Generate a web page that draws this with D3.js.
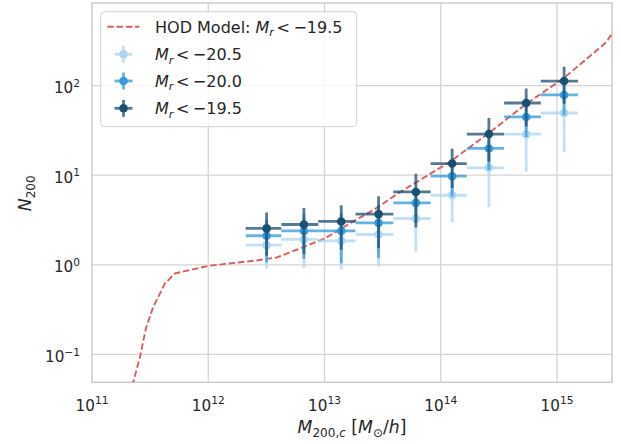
<!DOCTYPE html>
<html>
<head>
<meta charset="utf-8">
<script src="https://cdn.jsdelivr.net/npm/d3@7"></script>
<style>
  html, body { margin: 0; padding: 0; background: #fff; }
  svg { display: block; font-family: "DejaVu Sans", sans-serif; }
</style>
</head>
<body>
<svg id="chart" width="621" height="444"></svg>
<script>
// Halo occupation: number of member galaxies N200 against halo mass M200,c

// Mass bins (log10 of M200,c in Msun/h): edges and mean mass in each bin
const binEdgesLog = [12.322, 12.629, 12.946, 13.267, 13.592, 13.913, 14.224, 14.545, 14.861, 15.181];
const binCentersLog = [12.502, 12.823, 13.144, 13.465, 13.786, 14.098, 14.414, 14.735, 15.061];

// Mean N200 and its uncertainty for each magnitude-limited sample
const seriesNames = ["M_r < −20.5", "M_r < −20.0", "M_r < −19.5"];
const nBright = [1.66, 1.92, 1.85, 2.18, 3.29, 5.98, 12.1, 28.7, 49.5];
const errBright = [0.75, 1.0, 0.96, 1.23, 1.89, 3.0, 7.7, 17.8, 31.5];
const nMid = [2.11, 2.39, 2.39, 2.94, 4.91, 9.75, 19.9, 44.7, 78.7];
const errMid = [1.05, 1.23, 1.35, 1.75, 2.0, 4.0, 8.5, 18.0, 32.0];
const nFaint = [2.55, 2.82, 3.05, 3.68, 6.51, 13.5, 28.8, 64.0, 112.5];
const errFaint = [1.29, 1.50, 1.58, 2.15, 3.9, 6.3, 14.7, 29.0, 49.7];
const seriesColors = ["#aed6f1", "#3498db", "#1b4f72"];

// HOD model curve for M_r < -19.5 (log10 M, log10 N)
const hodLogM = [11.327, 11.355, 11.413, 11.464, 11.527, 11.542, 11.585, 11.628, 11.714, 12.003,
                 12.416, 12.588, 12.788, 13.003, 13.218, 13.419, 13.648, 14.078, 14.408, 14.738,
                 15.053, 15.426, 15.473];
const hodLogN = [-1.45, -1.311, -1.026, -0.709, -0.468, -0.430, -0.318, -0.207, -0.096, -0.011,
                 0.049, 0.082, 0.183, 0.294, 0.462, 0.610, 0.810, 1.148, 1.465, 1.799,
                 2.078, 2.486, 2.585];

// Axis ticks
const xTickExps = [11, 12, 13, 14, 15];
const yTickExps = [-1, 0, 1, 2];

const svg = d3.select("#chart");
const plot = { left: 92, right: 612, top: 3, bottom: 382.3 };

const x = d3.scaleLog().domain([1e11, Math.pow(10, 15.473)]).range([plot.left, plot.right]);
const y = d3.scaleLog().domain([Math.pow(10, -1.311), Math.pow(10, 2.922)]).range([plot.bottom, plot.top]);

const textColor = "#262626";
const gridColor = "#d5d5d5";

svg.append("defs").append("clipPath").attr("id", "plotclip")
  .append("rect")
  .attr("x", plot.left).attr("y", plot.top)
  .attr("width", plot.right - plot.left).attr("height", plot.bottom - plot.top);

// Grid
const grid = svg.append("g");
grid.selectAll("line.gx").data(xTickExps.slice(1)).join("line")
  .attr("x1", d => x(Math.pow(10, d))).attr("x2", d => x(Math.pow(10, d)))
  .attr("y1", plot.top).attr("y2", plot.bottom)
  .attr("stroke", gridColor).attr("stroke-width", 1.3);
grid.selectAll("line.gy").data(yTickExps).join("line")
  .attr("y1", d => y(Math.pow(10, d))).attr("y2", d => y(Math.pow(10, d)))
  .attr("x1", plot.left).attr("x2", plot.right)
  .attr("stroke", gridColor).attr("stroke-width", 1.3);

// Frame
svg.append("rect")
  .attr("x", plot.left).attr("y", plot.top)
  .attr("width", plot.right - plot.left).attr("height", plot.bottom - plot.top)
  .attr("fill", "none").attr("stroke", "#cccccc").attr("stroke-width", 1.5);

// Small mathtext-like helper: parts are {t, i (italic), s ('sub'|'sup'), dx}
function mathText(textSel, parts, size) {
  let shift = 0;
  parts.forEach(p => {
    let target = 0, fs = size;
    if (p.s === "sub") { target = 0.22 * size; fs = 0.7 * size; }
    if (p.s === "sup") { target = -0.42 * size; fs = 0.7 * size; }
    const ts = textSel.append("tspan")
      .text(p.t)
      .attr("font-size", fs)
      .attr("dy", target - shift);
    if (p.dx) ts.attr("dx", p.dx);
    if (p.i) ts.attr("font-style", "italic");
    shift = target;
  });
}

const tickSize = 15.2;
// X tick labels
xTickExps.forEach(e => {
  const t = svg.append("text")
    .attr("x", x(Math.pow(10, e)))
    .attr("y", 410.5)
    .attr("text-anchor", "middle")
    .attr("fill", textColor);
  mathText(t, [{ t: "10" }, { t: String(e), s: "sup" }], tickSize);
});
// Y tick labels
yTickExps.forEach(e => {
  const t = svg.append("text")
    .attr("x", 80)
    .attr("y", y(Math.pow(10, e)) + 7.5)
    .attr("text-anchor", "end")
    .attr("fill", textColor);
  mathText(t, [{ t: "10" }, { t: (e < 0 ? "−" : "") + Math.abs(e), s: "sup" }], tickSize);
});

// Axis labels
const labelSize = 17.2;
const xl = svg.append("text")
  .attr("x", (plot.left + plot.right) / 2).attr("y", 433)
  .attr("text-anchor", "middle").attr("fill", textColor);
mathText(xl, [
  { t: "M", i: true }, { t: "200,", s: "sub" }, { t: "c", s: "sub", i: true },
  { t: " [" }, { t: "M", i: true }, { t: "⊙", s: "sub" }, { t: "/" }, { t: "h", i: true }, { t: "]" }
], labelSize);

const yl = svg.append("text")
  .attr("transform", "translate(31,193.3) rotate(-90)")
  .attr("text-anchor", "middle").attr("fill", textColor);
mathText(yl, [{ t: "N", i: true }, { t: "200", s: "sub" }], labelSize);

const plotArea = svg.append("g").attr("clip-path", "url(#plotclip)");

// HOD model line
const hodLine = d3.line()
  .x((d, i) => x(Math.pow(10, hodLogM[i])))
  .y((d, i) => y(Math.pow(10, hodLogN[i])));
plotArea.append("path")
  .attr("d", hodLine(hodLogM))
  .attr("fill", "none")
  .attr("stroke", "#d65f5f")
  .attr("stroke-width", 1.9)
  .attr("stroke-dasharray", "6.5,2.8");

// Error bars and points
const series = [
  { n: nBright, err: errBright, color: seriesColors[0] },
  { n: nMid, err: errMid, color: seriesColors[1] },
  { n: nFaint, err: errFaint, color: seriesColors[2] }
];
const yMinVal = y.domain()[0];
series.forEach(s => {
  const g = plotArea.append("g");
  const rows = s.n.map((v, i) => ({
    xc: Math.pow(10, binCentersLog[i]),
    x0: Math.pow(10, binEdgesLog[i]),
    x1: Math.pow(10, binEdgesLog[i + 1]),
    v: v,
    lo: Math.max(v - s.err[i], yMinVal * 0.5),
    hi: v + s.err[i]
  }));
  g.selectAll("line.h").data(rows).join("line")
    .attr("x1", d => x(d.x0)).attr("x2", d => x(d.x1))
    .attr("y1", d => y(d.v)).attr("y2", d => y(d.v))
    .attr("stroke", s.color).attr("stroke-width", 2.8).attr("stroke-opacity", 0.75);
  g.selectAll("line.v").data(rows).join("line")
    .attr("x1", d => x(d.xc)).attr("x2", d => x(d.xc))
    .attr("y1", d => y(d.lo)).attr("y2", d => y(d.hi))
    .attr("stroke", s.color).attr("stroke-width", 2.8).attr("stroke-opacity", 0.75);
  g.selectAll("circle").data(rows).join("circle")
    .attr("cx", d => x(d.xc)).attr("cy", d => y(d.v))
    .attr("r", 4.3).attr("fill", s.color);
});

// Legend
const legend = svg.append("g");
legend.append("rect")
  .attr("x", 100.7).attr("y", 11.7).attr("width", 256).attr("height", 115)
  .attr("rx", 4).attr("fill", "#fff").attr("fill-opacity", 0.8)
  .attr("stroke", "#d0d0d0").attr("stroke-width", 1);

const legendSize = 16;
const rowY = [26.7, 54.3, 81, 108.3];
const handleX = 123.5;
legend.append("line")
  .attr("x1", 107.3).attr("x2", 139.3).attr("y1", rowY[0]).attr("y2", rowY[0])
  .attr("stroke", "#d65f5f").attr("stroke-width", 1.9).attr("stroke-dasharray", "6.5,2.8");
const l0 = legend.append("text").attr("x", 155).attr("y", rowY[0] + 5.8).attr("fill", textColor);
mathText(l0, [{ t: "HOD Model: " }, { t: "M", i: true }, { t: "r", s: "sub", i: true },
  { t: "<", dx: 2.5 }, { t: "−19.5", dx: 3.5 }], legendSize);

series.forEach((s, k) => {
  const cy = rowY[k + 1];
  legend.append("line")
    .attr("x1", handleX - 9).attr("x2", handleX + 9).attr("y1", cy).attr("y2", cy)
    .attr("stroke", s.color).attr("stroke-width", 2.8).attr("stroke-opacity", 0.75);
  legend.append("line")
    .attr("x1", handleX).attr("x2", handleX).attr("y1", cy - 8.5).attr("y2", cy + 8.5)
    .attr("stroke", s.color).attr("stroke-width", 2.8).attr("stroke-opacity", 0.75);
  legend.append("circle").attr("cx", handleX).attr("cy", cy).attr("r", 4.3).attr("fill", s.color);
  const txt = seriesNames[k].split(" < ");
  const t = legend.append("text").attr("x", 155).attr("y", cy + 5.8).attr("fill", textColor);
  mathText(t, [{ t: "M", i: true }, { t: "r", s: "sub", i: true },
    { t: "<", dx: 2.5 }, { t: txt[1], dx: 3.5 }], legendSize);
});
</script>
</body>
</html>
